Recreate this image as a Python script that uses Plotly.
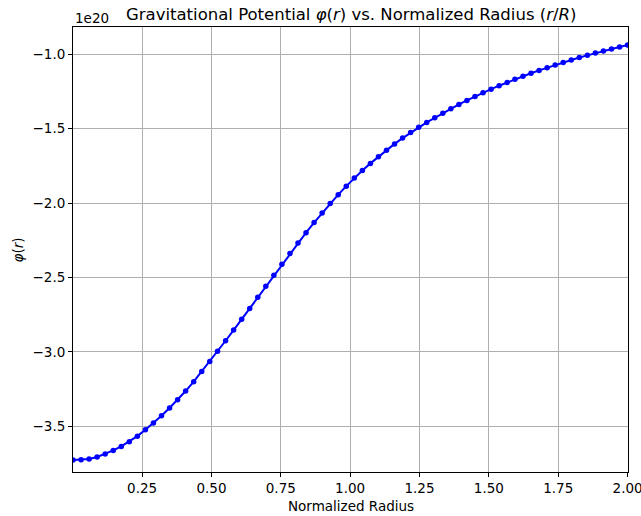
import plotly.graph_objects as go

# Normalized radius r/R
r_norm = [0.001, 0.030, 0.059, 0.088, 0.117, 0.146, 0.175, 0.204, 0.233, 0.262,
          0.291, 0.320, 0.349, 0.378, 0.407, 0.436, 0.465, 0.494, 0.522, 0.551,
          0.580, 0.609, 0.638, 0.667, 0.696, 0.725, 0.754, 0.783, 0.812, 0.841,
          0.870, 0.899, 0.928, 0.957, 0.986, 1.015, 1.044, 1.073, 1.102, 1.131,
          1.160, 1.189, 1.218, 1.247, 1.276, 1.305, 1.334, 1.363, 1.392, 1.421,
          1.450, 1.479, 1.508, 1.537, 1.566, 1.594, 1.623, 1.652, 1.681, 1.710,
          1.739, 1.768, 1.797, 1.826, 1.855, 1.884, 1.913, 1.942, 1.971, 2.000]

# Gravitational potential, in units of 1e20
phi_e20 = [-3.726, -3.724, -3.719, -3.706, -3.686, -3.662, -3.635, -3.603, -3.566, -3.523,
           -3.478, -3.429, -3.377, -3.321, -3.263, -3.200, -3.132, -3.064, -2.995, -2.925,
           -2.853, -2.780, -2.708, -2.633, -2.559, -2.485, -2.411, -2.339, -2.268, -2.199,
           -2.131, -2.066, -2.003, -1.943, -1.886, -1.832, -1.781, -1.733, -1.688, -1.644,
           -1.602, -1.563, -1.526, -1.491, -1.458, -1.427, -1.396, -1.366, -1.337, -1.310,
           -1.283, -1.258, -1.234, -1.211, -1.189, -1.168, -1.147, -1.127, -1.108, -1.090,
           -1.072, -1.055, -1.038, -1.022, -1.007, -0.992, -0.978, -0.964, -0.951, -0.938]

x_ticks = [0.25, 0.50, 0.75, 1.00, 1.25, 1.50, 1.75, 2.00]
x_ticklabels = ["0.25", "0.50", "0.75", "1.00", "1.25", "1.50", "1.75", "2.00"]
y_ticks = [-1.0, -1.5, -2.0, -2.5, -3.0, -3.5]
y_ticklabels = ["\u22121.0", "\u22121.5", "\u22122.0", "\u22122.5", "\u22123.0", "\u22123.5"]

FONT = "DejaVu Sans"
TICK_SIZE = 13.5

fig = go.Figure()
fig.add_trace(go.Scatter(
    x=r_norm, y=phi_e20, mode="lines+markers",
    line=dict(color="#0000ff", width=2),
    marker=dict(color="#0000ff", size=5.5),
    cliponaxis=True, showlegend=False,
))

axis_common = dict(
    showline=True, linecolor="black", linewidth=1, mirror=True,
    showgrid=True, gridcolor="#b0b0b0", gridwidth=1,
    ticks="outside", ticklen=4, tickcolor="black", tickwidth=1,
    tickfont=dict(family=FONT, size=TICK_SIZE, color="black"),
    zeroline=False, ticklabeloverflow="allow", automargin=False,
)

fig.update_layout(
    width=641, height=516,
    margin=dict(l=73, r=13, t=27, b=44),
    paper_bgcolor="white", plot_bgcolor="white",
    font=dict(family=FONT, color="black"),
    xaxis=dict(range=[0.001, 2.0015], tickvals=x_ticks, ticktext=x_ticklabels, **axis_common),
    yaxis=dict(range=[-3.807, -0.8165], tickvals=y_ticks, ticktext=y_ticklabels, **axis_common),
    annotations=[
        dict(text="Gravitational Potential <i>φ</i>(<i>r</i>) vs. Normalized Radius (<i>r</i>/<i>R</i>)",
             xref="paper", yref="paper", x=0.5, y=1.0285, xanchor="center", yanchor="middle",
             showarrow=False, font=dict(family=FONT, size=16.5, color="black")),
        dict(text="1e20", xref="paper", yref="paper", x=0.0, y=1.0196,
             xanchor="left", yanchor="middle", showarrow=False,
             font=dict(family=FONT, size=TICK_SIZE, color="black")),
        dict(text="Normalized Radius", xref="paper", yref="paper", x=0.5, y=-0.077,
             xanchor="center", yanchor="middle", showarrow=False,
             font=dict(family=FONT, size=13.5, color="black")),
        dict(text="<i>φ</i>(<i>r</i>)", xref="paper", yref="paper", x=-0.099, y=0.498,
             xanchor="center", yanchor="middle", textangle=-90, showarrow=False,
             font=dict(family=FONT, size=13.5, color="black")),
    ],
)

fig.write_html("out.html")
